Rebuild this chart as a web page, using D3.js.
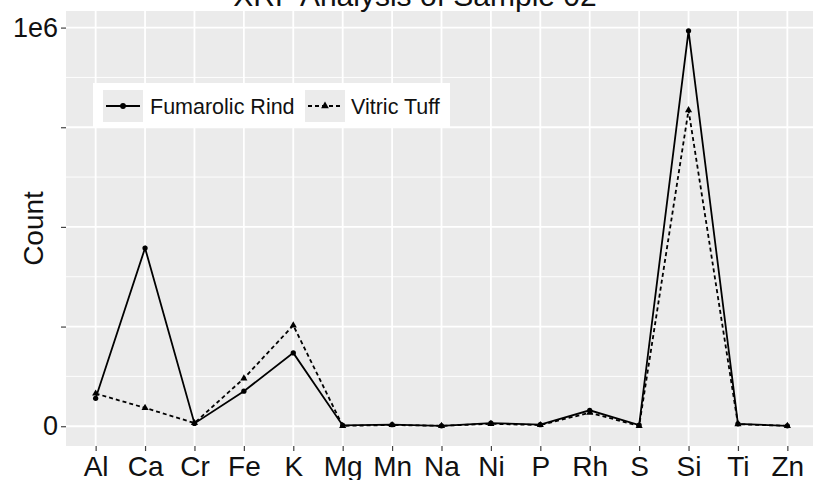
<!DOCTYPE html>
<html>
<head>
<meta charset="utf-8">
<script src="https://cdn.jsdelivr.net/npm/d3@7"></script>
<style>
  body { margin: 0; background: #fff; }
  text { font-family: "Liberation Sans", Arial, sans-serif; }
</style>
</head>
<body>
<svg id="chart" width="813" height="480"></svg>
<script>
// values
var elements = ["Al", "Ca", "Cr", "Fe", "K", "Mg", "Mn", "Na", "Ni", "P", "Rh", "S", "Si", "Ti", "Zn"];
var fumarolic = [70000, 447000, 7000, 88000, 184000, 2000, 4000, 1000, 8000, 4000, 40000, 3000, 992000, 6000, 1000];
var vitric = [82000, 46000, 8000, 120000, 253000, 1000, 3000, 1000, 6000, 3000, 34000, 500, 793000, 5000, 1000];
var seriesNames = ["Fumarolic Rind", "Vitric Tuff"];
var yTicks = [0, 250000, 500000, 750000, 1000000];
var yTickLabels = ["0", "", "", "", "1e6"];
var yMinor = [125000, 375000, 625000, 875000];

var svg = d3.select("#chart");
var panel = {left: 66, right: 817, top: 11, bottom: 446};

var x = d3.scalePoint()
    .domain(elements)
    .range([panel.left, panel.right])
    .padding(0.6);

// ggplot style 5% expansion around the data
var ymax = d3.max(fumarolic.concat(vitric));
var ymin = 0;
var pad = (ymax - ymin) * 0.05;
var y = d3.scaleLinear()
    .domain([ymin - pad, ymax + pad])
    .range([panel.bottom, panel.top]);

// panel background
svg.append("rect")
    .attr("x", panel.left).attr("y", panel.top)
    .attr("width", panel.right - panel.left)
    .attr("height", panel.bottom - panel.top)
    .attr("fill", "#ebebeb");

var grid = svg.append("g");
grid.selectAll("line.minor")
    .data(yMinor)
    .enter().append("line")
    .attr("x1", panel.left).attr("x2", panel.right)
    .attr("y1", function(d) { return y(d); })
    .attr("y2", function(d) { return y(d); })
    .attr("stroke", "#fff").attr("stroke-width", 0.9);
grid.selectAll("line.major")
    .data(yTicks)
    .enter().append("line")
    .attr("x1", panel.left).attr("x2", panel.right)
    .attr("y1", function(d) { return y(d); })
    .attr("y2", function(d) { return y(d); })
    .attr("stroke", "#fff").attr("stroke-width", 1.8);
grid.selectAll("line.vert")
    .data(elements)
    .enter().append("line")
    .attr("x1", function(d) { return x(d); })
    .attr("x2", function(d) { return x(d); })
    .attr("y1", panel.top).attr("y2", panel.bottom)
    .attr("stroke", "#fff").attr("stroke-width", 1.8);

// axes
var xAxis = d3.axisBottom(x).tickSize(5).tickPadding(4);
var gx = svg.append("g")
    .attr("transform", "translate(0," + panel.bottom + ")")
    .call(xAxis);
gx.select(".domain").remove();
gx.selectAll(".tick line").attr("stroke", "#444").attr("stroke-width", 1.2);
gx.selectAll(".tick text")
    .attr("fill", "#111")
    .style("font-size", "28px")
    .attr("dy", "0.75em");

var yAxis = d3.axisLeft(y)
    .tickValues(yTicks)
    .tickFormat(function(d, i) { return yTickLabels[i]; })
    .tickSize(5).tickPadding(3);
var gy = svg.append("g")
    .attr("transform", "translate(" + panel.left + ",0)")
    .call(yAxis);
gy.select(".domain").remove();
gy.selectAll(".tick line").attr("stroke", "#444").attr("stroke-width", 1.2);
gy.selectAll(".tick text")
    .attr("fill", "#111")
    .style("font-size", "27px");

svg.append("text")
    .attr("transform", "translate(43," + ((panel.top + panel.bottom) / 2) + ") rotate(-90)")
    .attr("text-anchor", "middle")
    .attr("fill", "#111")
    .style("font-size", "28px")
    .text("Count");

svg.append("text")
    .attr("x", 415).attr("y", 6)
    .attr("text-anchor", "middle")
    .attr("fill", "#111")
    .style("font-size", "30px")
    .text("XRF Analysis of Sample 02");

// lines and points
var series = [
    {name: seriesNames[0], values: fumarolic, dash: null, shape: d3.symbolCircle},
    {name: seriesNames[1], values: vitric, dash: "4,3", shape: d3.symbolTriangle}
];

var line = d3.line()
    .x(function(d, i) { return x(elements[i]); })
    .y(function(d) { return y(d); });

series.forEach(function(s) {
    svg.append("path")
        .datum(s.values)
        .attr("d", line)
        .attr("fill", "none")
        .attr("stroke", "#000")
        .attr("stroke-width", 1.8)
        .attr("stroke-dasharray", s.dash);
    svg.append("g")
        .selectAll("path")
        .data(s.values)
        .enter().append("path")
        .attr("d", d3.symbol().type(s.shape).size(22))
        .attr("transform", function(d, i) {
            return "translate(" + x(elements[i]) + "," + y(d) + ")";
        })
        .attr("fill", "#000");
});

// legend
var legend = svg.append("g").attr("transform", "translate(93,83)");
legend.append("rect")
    .attr("width", 357).attr("height", 45)
    .attr("fill", "#fff");
var keyX = [10, 212];
var textX = [57, 258];
series.forEach(function(s, i) {
    var kg = legend.append("g").attr("transform", "translate(" + keyX[i] + ",7)");
    kg.append("rect").attr("width", 40).attr("height", 32).attr("fill", "#ebebeb");
    kg.append("line")
        .attr("x1", 3).attr("x2", 37)
        .attr("y1", 16).attr("y2", 16)
        .attr("stroke", "#000").attr("stroke-width", 1.8)
        .attr("stroke-dasharray", s.dash);
    kg.append("path")
        .attr("d", d3.symbol().type(s.shape).size(26))
        .attr("transform", "translate(20,16)")
        .attr("fill", "#000");
    legend.append("text")
        .attr("x", textX[i]).attr("y", 23)
        .attr("dy", "0.35em")
        .attr("fill", "#111")
        .style("font-size", "21.5px")
        .text(s.name);
});
</script>
</body>
</html>
